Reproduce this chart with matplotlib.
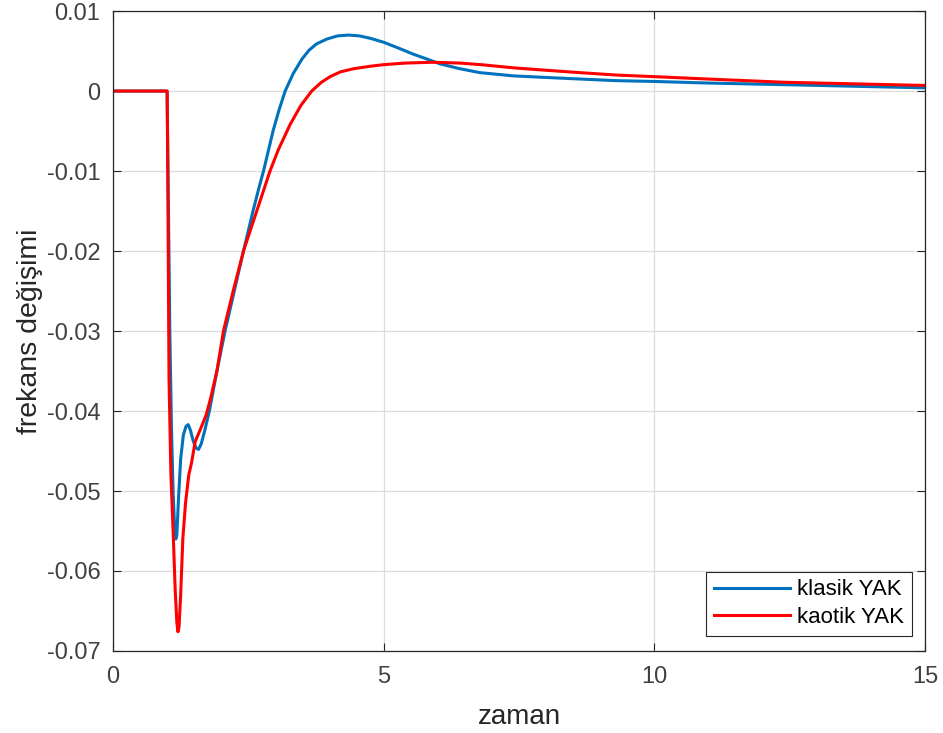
import matplotlib.pyplot as plt

# klasik YAK (blue)
t_klasik = [0, 1.0, 1.02, 1.05, 1.08, 1.11, 1.14, 1.16, 1.18, 1.21, 1.25, 1.30, 1.35,
            1.39, 1.43, 1.48, 1.53, 1.58, 1.63, 1.70, 1.78, 1.92, 2.07, 2.24, 2.41,
            2.59, 2.70, 2.78, 2.96, 3.07, 3.18, 3.33, 3.49, 3.62, 3.76, 3.95, 4.15,
            4.35, 4.55, 4.75, 5.0, 5.3, 5.55, 5.8, 6.04, 6.4, 6.78, 7.39, 8.0, 8.63,
            9.3, 10.0, 11.0, 12.4, 13.7, 15.0]
y_klasik = [0, 0, -0.012, -0.030, -0.042, -0.050, -0.0548, -0.0560, -0.0555, -0.051,
            -0.046, -0.0430, -0.0419, -0.0417, -0.0424, -0.0437, -0.0446, -0.0448,
            -0.0441, -0.0423, -0.0400, -0.0350, -0.0300, -0.0250, -0.0200, -0.0149,
            -0.0120, -0.0100, -0.0049, -0.0023, 0.0, 0.0022, 0.0040, 0.0051, 0.0059,
            0.0065, 0.0069, 0.0070, 0.0069, 0.0066, 0.0061, 0.0053, 0.0046, 0.0040,
            0.0034, 0.0028, 0.0023, 0.0019, 0.0017, 0.0015, 0.0013, 0.0012, 0.0010,
            0.0008, 0.0006, 0.0004]

# kaotik YAK (red)
t_kaotik = [0, 1.0, 1.01, 1.035, 1.07, 1.11, 1.15, 1.18, 1.20, 1.22, 1.25, 1.29, 1.34,
            1.40, 1.45, 1.52, 1.62, 1.72, 1.80, 1.92, 2.04, 2.22, 2.41, 2.66, 2.90,
            3.05, 3.27, 3.47, 3.67, 3.85, 4.01, 4.20, 4.45, 4.75, 5.0, 5.4, 5.9, 6.4,
            6.8, 7.4, 8.0, 8.63, 9.3, 10.0, 11.0, 12.4, 13.7, 15.0]
y_kaotik = [0, 0, -0.008, -0.036, -0.048, -0.0549, -0.0625, -0.0665, -0.0676, -0.0670,
            -0.0630, -0.0560, -0.0515, -0.0480, -0.0465, -0.0438, -0.0422, -0.0405,
            -0.0385, -0.0350, -0.0300, -0.0250, -0.0200, -0.0149, -0.0100, -0.0074,
            -0.0042, -0.0018, 0.0, 0.0011, 0.0018, 0.0024, 0.0028, 0.0031, 0.0033,
            0.0035, 0.0036, 0.0035, 0.0033, 0.0029, 0.0026, 0.0023, 0.0020, 0.0018,
            0.0015, 0.0011, 0.0009, 0.0007]

x_ticks = [0, 5, 10, 15]
y_ticks = [0.01, 0, -0.01, -0.02, -0.03, -0.04, -0.05, -0.06, -0.07]
y_ticklabels = ['0.01', '0', '-0.01', '-0.02', '-0.03', '-0.04', '-0.05', '-0.06', '-0.07']

plt.rcParams['font.family'] = ['Liberation Sans', 'DejaVu Sans']

fig = plt.figure(figsize=(9.43, 7.33), dpi=100)
ax = fig.add_axes([0.1198, 0.1119, 0.8613, 0.8730])

ax.plot(t_klasik, y_klasik, color='#0072BD', lw=2.2, label='klasik YAK')
ax.plot(t_kaotik, y_kaotik, color='#FF0000', lw=2.2, label='kaotik YAK')

ax.set_xlim(0, 15)
ax.set_ylim(-0.07, 0.01)
ax.set_xticks(x_ticks)
ax.set_yticks(y_ticks)
ax.set_yticklabels(y_ticklabels)
ax.grid(True, color='#dcdcdc', lw=0.9)
ax.set_axisbelow(True)
ax.tick_params(direction='in', length=6, width=0.8, top=True, right=True,
               labelsize=17, colors='#262626', labelcolor='#404040')
ax.tick_params(axis='x', pad=11)
ax.tick_params(axis='y', pad=9)
for s in ax.spines.values():
    s.set_color('#262626')
    s.set_linewidth(0.9)

ax.set_xlabel('zaman', fontsize=20, color='#262626', labelpad=11)
ax.set_ylabel('frekans değişimi', fontsize=20.5, color='#262626', labelpad=3)

leg = ax.legend(loc='lower right', bbox_to_anchor=(0.984, 0.0235), borderaxespad=0,
                fontsize=16, fancybox=False, framealpha=1, edgecolor='#262626',
                handlelength=3.4, handletextpad=0.35, borderpad=0.35, labelspacing=0.3)
leg.get_frame().set_linewidth(0.8)

fig.savefig('out.png', dpi=100)
